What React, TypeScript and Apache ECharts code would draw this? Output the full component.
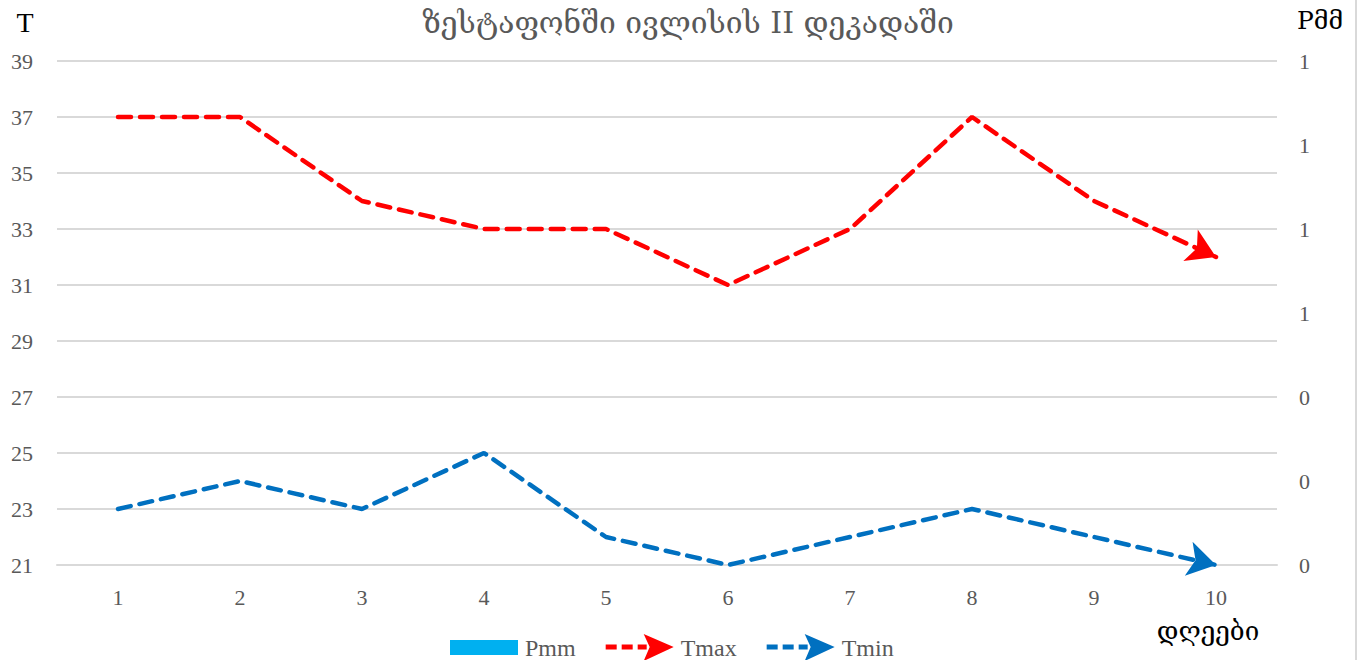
import React, { useEffect, useRef } from "react";
import * as echarts from "echarts";

const days = ["1", "2", "3", "4", "5", "6", "7", "8", "9", "10"];
const pmm: (number | null)[] = [null, null, null, null, null, null, null, null, null, null];
const tmax = [37, 37, 34, 33, 33, 31, 33, 37, 34, 32];
const tmin = [23, 24, 23, 25, 22, 21, 22, 23, 22, 21];

const titleText = "ზესტაფონში ივლისის II დეკადაში";
const leftName = "T";
const rightName = "Pმმ";
const xName = "დღეები";

const serif = "'Liberation Serif', 'DejaVu Serif', serif";
const geo = "'DejaVu Serif', 'DejaVu Sans', serif";

const RED = "#FF0000";
const BLUE = "#0070C0";
const CYAN = "#00B0F0";

const arrowIcon =
  "path://M0,10.5h11v5h-11z M16,10.5h11v5h-11z M32,10.5h9v5h-9z M38,0 L68,13 L38,27 L44,13 z";
const rectIcon = "path://M0,0 M0,27 M0,6h68v15h-68z";

function arrowLine(vals: number[], color: string) {
  const n = vals.length;
  return {
    silent: true,
    symbol: ["none", "arrow"],
    symbolSize: [26, 28],
    symbolOffset: [0, 0],
    label: { show: false },
    lineStyle: { color, width: 0, type: "solid", opacity: 1 },
    emphasis: { disabled: true },
    data: [
      [
        { coord: [days[n - 2], vals[n - 2]] },
        { coord: [days[n - 1], vals[n - 1]] },
      ],
    ],
  };
}

export default function App() {
  const ref = useRef<HTMLDivElement>(null);
  useEffect(() => {
    if (!ref.current) return;
    const chart = echarts.init(ref.current, undefined, { renderer: "svg" });
    const labelStyle = { color: "#595959", fontFamily: serif, fontSize: 22 };
    chart.setOption({
      animation: false,
      backgroundColor: "#FFFFFF",
      grid: { left: 57, right: 84, top: 61, bottom: 95, containLabel: false },
      xAxis: {
        type: "category",
        data: days,
        boundaryGap: true,
        axisLine: { show: true, lineStyle: { color: "#D9D9D9", width: 2 } },
        axisTick: { show: false },
        axisLabel: { ...labelStyle, margin: 21 },
      },
      yAxis: [
        {
          type: "value",
          min: 21,
          max: 39,
          interval: 2,
          axisLine: { show: false },
          axisTick: { show: false },
          axisLabel: { ...labelStyle, margin: 24 },
          splitLine: { lineStyle: { color: "#D9D9D9", width: 2 } },
        },
        {
          type: "value",
          min: 0,
          max: 1.2,
          interval: 0.2,
          position: "right",
          axisLine: { show: false },
          axisTick: { show: false },
          splitLine: { show: false },
          axisLabel: {
            ...labelStyle,
            margin: 22,
            formatter: (v: number) => String(Math.round(v)),
          },
        },
      ],
      legend: {
        left: 445,
        top: 629,
        itemWidth: 68,
        itemHeight: 27,
        itemGap: 30,
        textStyle: { color: "#595959", fontFamily: serif, fontSize: 24, padding: [0, 0, 0, 2] },
        itemStyle: { borderWidth: 0 },
        data: [
          { name: "Pmm", icon: rectIcon },
          { name: "Tmax", icon: arrowIcon },
          { name: "Tmin", icon: arrowIcon },
        ],
      },
      series: [
        {
          name: "Pmm",
          type: "bar",
          yAxisIndex: 1,
          data: pmm,
          itemStyle: { color: CYAN },
        },
        {
          name: "Tmax",
          type: "line",
          data: tmax,
          showSymbol: false,
          symbol: "none",
          itemStyle: { color: RED },
          lineStyle: { color: RED, width: 4.5, type: [13, 9], cap: "round" },
          markLine: arrowLine(tmax, RED),
        },
        {
          name: "Tmin",
          type: "line",
          data: tmin,
          showSymbol: false,
          symbol: "none",
          itemStyle: { color: BLUE },
          lineStyle: { color: BLUE, width: 4.5, type: [13, 9], cap: "round" },
          markLine: arrowLine(tmin, BLUE),
        },
      ],
      graphic: [
        {
          type: "text",
          x: 688,
          y: 22,
          style: {
            text: titleText,
            fill: "#595959",
            font: `30px ${geo}`,
            align: "center",
            verticalAlign: "middle",
          },
        },
        {
          type: "text",
          x: 25,
          y: 22,
          style: { text: leftName, fill: "#000", font: `28px ${serif}`, align: "center", verticalAlign: "middle" },
        },
        {
          type: "text",
          x: 1320,
          y: 20,
          style: { text: rightName, fill: "#000", font: `25px ${geo}`, align: "center", verticalAlign: "middle" },
        },
        {
          type: "text",
          x: 1208,
          y: 631,
          style: { text: xName, fill: "#000", font: `26px ${geo}`, align: "center", verticalAlign: "middle" },
        },
        {
          type: "line",
          shape: { x1: 1356, y1: 0, x2: 1356, y2: 660 },
          style: { stroke: "#D9D9D9", lineWidth: 2 },
        },
      ],
    });
    return () => chart.dispose();
  }, []);
  return <div ref={ref} style={{ width: 1361, height: 660, position: "absolute", left: 0, top: 0 }} />;
}
